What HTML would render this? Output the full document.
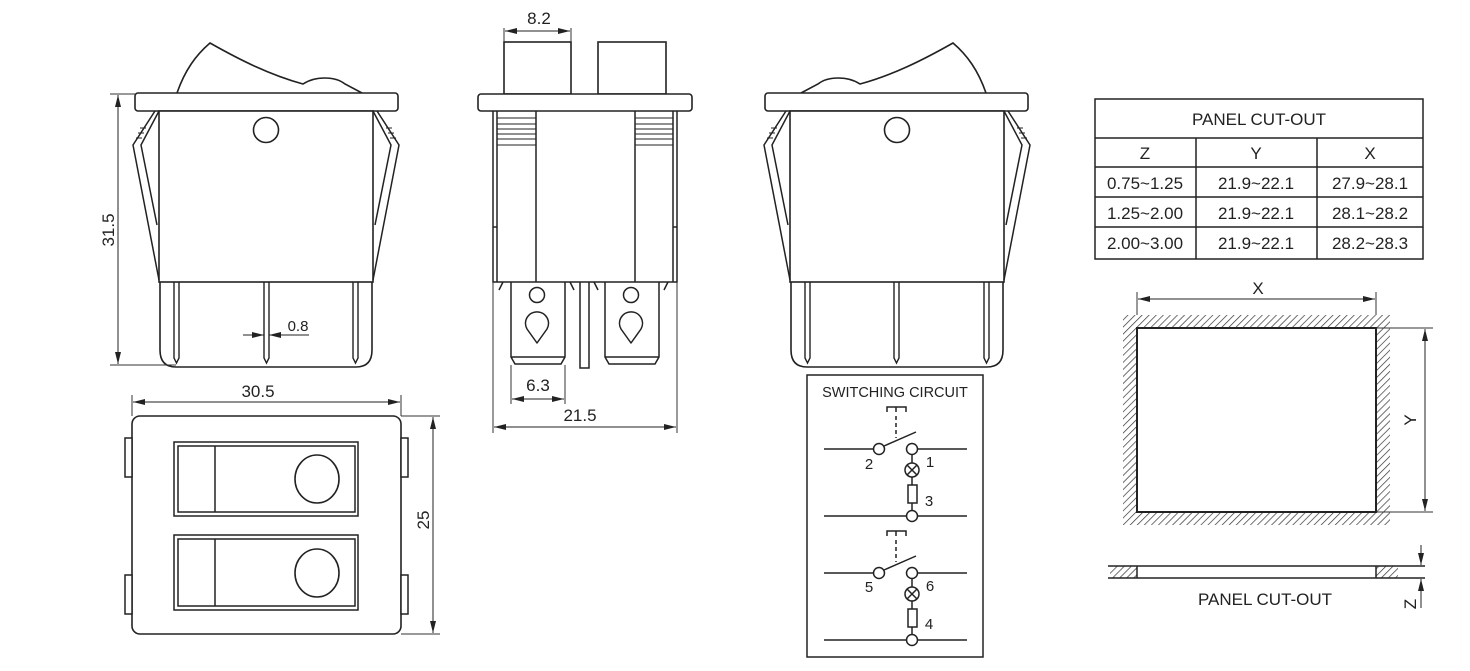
<!DOCTYPE html>
<html><head><meta charset="utf-8"><style>
html,body{margin:0;padding:0;background:#fff;}
svg{display:block;}
text{font-family:"Liberation Sans",Arial,sans-serif;fill:#222;}
</style></head><body>
<svg width="1470" height="671" viewBox="0 0 1470 671" xmlns="http://www.w3.org/2000/svg">
<defs>
<marker id="a" viewBox="0 0 12 6" refX="12" refY="3" markerWidth="12" markerHeight="6" orient="auto-start-reverse" markerUnits="userSpaceOnUse"><path d="M0,0 L12,3 L0,6 Z" fill="#222"/></marker>
<pattern id="h" width="5" height="5" patternUnits="userSpaceOnUse" patternTransform="rotate(45)"><line x1="0" y1="0" x2="0" y2="5" stroke="#333" stroke-width="1.4"/></pattern>
<g id="side">
<path d="M177,93 C185,70 196,55 210,43 C240,60 270,75 303,84 C315,76 335,76 345,84 L362,93" fill="none" stroke="#222" stroke-width="1.6"/>
<rect x="135" y="93" width="263" height="18" rx="3" fill="#fff" stroke="#222" stroke-width="1.6"/>
<rect x="159" y="111" width="214" height="171" fill="#fff" stroke="#222" stroke-width="1.6"/>
<circle cx="266" cy="130" r="12.5" fill="none" stroke="#222" stroke-width="1.6"/>
<path d="M155,111 L133,145 L159,280 M159,111 L141,145 L157,225" fill="none" stroke="#222" stroke-width="1.5"/>
<path d="M377,111 L399,145 L373,280 M373,111 L391,145 L375,225" fill="none" stroke="#222" stroke-width="1.5"/>
<path d="M140,128 l6,0 M138,133 l6,0 M136,138 l6,0 M392,128 l-6,0 M394,133 l-6,0 M396,138 l-6,0" stroke="#222" stroke-width="1"/>
<path d="M160,282 L160,350 Q160,367 176,367 L356,367 Q372,367 372,350 L372,282" fill="none" stroke="#222" stroke-width="1.6"/>
<path d="M174,282 L174,358 L176.5,363 L179,358 L179,282 M264,282 L264,358 L266.5,363 L269,358 L269,282 M353,282 L353,358 L355.5,363 L358,358 L358,282" fill="none" stroke="#222" stroke-width="1.4"/>
</g>
</defs>

<use href="#side"/>
<line x1="110" y1="94" x2="136" y2="94" stroke="#333" stroke-width="1"/>
<line x1="110" y1="365" x2="176" y2="365" stroke="#333" stroke-width="1"/>
<line x1="118" y1="95" x2="118" y2="364" stroke="#222" stroke-width="1" marker-start="url(#a)" marker-end="url(#a)"/>
<text x="0" y="0" font-size="17" text-anchor="middle" transform="translate(114,230) rotate(-90)">31.5</text>
<line x1="243" y1="335" x2="264" y2="335" stroke="#222" stroke-width="1" marker-end="url(#a)"/>
<line x1="309" y1="335" x2="269" y2="335" stroke="#222" stroke-width="1" marker-end="url(#a)"/>
<text x="298" y="331" font-size="15" text-anchor="middle">0.8</text>

<rect x="504" y="42" width="67" height="52" fill="#fff" stroke="#222" stroke-width="1.6"/>
<rect x="598" y="42" width="68" height="52" fill="#fff" stroke="#222" stroke-width="1.6"/>
<line x1="504" y1="28" x2="504" y2="42" stroke="#333" stroke-width="1"/>
<line x1="571" y1="28" x2="571" y2="42" stroke="#333" stroke-width="1"/>
<line x1="505" y1="31" x2="570" y2="31" stroke="#222" stroke-width="1" marker-start="url(#a)" marker-end="url(#a)"/>
<text x="539" y="24" font-size="17" text-anchor="middle">8.2</text>
<rect x="478" y="94" width="214" height="17" rx="3" fill="#fff" stroke="#222" stroke-width="1.6"/>
<path d="M493,111 L493,282 L677,282 L677,111 M497,111 L497,282 M673,111 L673,282 M493,227 L497,227 M673,227 L677,227" fill="none" stroke="#222" stroke-width="1.5"/>
<path d="M536,111 L536,282 M635,111 L635,282" stroke="#222" stroke-width="1.5"/>
<path d="M497,118 H536 M497,124 H536 M497,129 H536 M497,134 H536 M497,139 H536 M497,145 H536 M635,118 H673 M635,124 H673 M635,129 H673 M635,134 H673 M635,139 H673 M635,145 H673" stroke="#222" stroke-width="1"/>
<path d="M511,282 L511,357 L515,364 L561,364 L565,357 L565,282 M511,357 H565" fill="none" stroke="#222" stroke-width="1.5"/>
<path d="M605,282 L605,357 L609,364 L655,364 L659,357 L659,282 M605,357 H659" fill="none" stroke="#222" stroke-width="1.5"/>
<path d="M580,282 L580,368 L589,368 L589,282" fill="none" stroke="#222" stroke-width="1.5"/>
<path d="M503,282 l-4,8 M570,282 l4,8 M594,282 l4,8 M668,282 l-4,8" stroke="#222" stroke-width="1.5"/>
<circle cx="537" cy="295" r="7.5" fill="none" stroke="#222" stroke-width="1.5"/>
<circle cx="631" cy="295" r="7.5" fill="none" stroke="#222" stroke-width="1.5"/>
<path d="M537,343 L527,329 A11.5,11.5 0 1 1 547,329 Z" fill="none" stroke="#222" stroke-width="1.5" stroke-linejoin="round"/>
<path d="M631,343 L621,329 A11.5,11.5 0 1 1 641,329 Z" fill="none" stroke="#222" stroke-width="1.5" stroke-linejoin="round"/>
<line x1="511" y1="365" x2="511" y2="404" stroke="#333" stroke-width="1"/>
<line x1="565" y1="365" x2="565" y2="404" stroke="#333" stroke-width="1"/>
<line x1="512" y1="399" x2="564" y2="399" stroke="#222" stroke-width="1" marker-start="url(#a)" marker-end="url(#a)"/>
<text x="538" y="391" font-size="17" text-anchor="middle">6.3</text>
<line x1="493" y1="282" x2="493" y2="433" stroke="#333" stroke-width="1"/>
<line x1="677" y1="282" x2="677" y2="433" stroke="#333" stroke-width="1"/>
<line x1="494" y1="427" x2="676" y2="427" stroke="#222" stroke-width="1" marker-start="url(#a)" marker-end="url(#a)"/>
<text x="580" y="421" font-size="17" text-anchor="middle">21.5</text>

<use href="#side" transform="translate(1163,0) scale(-1,1)"/>

<rect x="807" y="375" width="176" height="282" fill="none" stroke="#222" stroke-width="1.5"/>
<text x="895" y="397" font-size="14.5" text-anchor="middle">SWITCHING CIRCUIT</text>
<g id="sw" stroke="#222" stroke-width="1.5" fill="none">
<path d="M887,412 V407 H906 V412 M896,407 V412"/>
<line x1="896" y1="416" x2="896" y2="438" stroke-dasharray="4,3"/>
<line x1="824" y1="449" x2="873" y2="449"/>
<line x1="918" y1="449" x2="967" y2="449"/>
<circle cx="879" cy="449" r="5.5" fill="#fff"/>
<circle cx="912" cy="449" r="5.5" fill="#fff"/>
<line x1="884" y1="446" x2="916" y2="432"/>
<line x1="912" y1="455" x2="912" y2="463"/>
<circle cx="912" cy="470" r="7" fill="#fff"/>
<path d="M907,465 L917,475 M917,465 L907,475"/>
<line x1="912" y1="477" x2="912" y2="485"/>
<rect x="908" y="485" width="9" height="18" fill="#fff"/>
<line x1="912" y1="503" x2="912" y2="510"/>
<line x1="824" y1="516" x2="967" y2="516"/>
<circle cx="912" cy="516" r="5.5" fill="#fff"/>
</g>
<use href="#sw" transform="translate(0,124)"/>
<g font-size="15" text-anchor="middle">
<text x="869" y="469">2</text>
<text x="930" y="467">1</text>
<text x="929" y="506">3</text>
<text x="869" y="592">5</text>
<text x="930" y="591">6</text>
<text x="929" y="629">4</text>
</g>

<g stroke="#222" stroke-width="1.5" fill="none">
<rect x="1095" y="99" width="328" height="160"/>
<path d="M1095,138 H1423 M1095,167 H1423 M1095,197 H1423 M1095,227 H1423 M1196,138 V259 M1317,138 V259"/>
</g>
<g font-size="17" text-anchor="middle">
<text x="1259" y="125">PANEL CUT-OUT</text>
<text x="1145" y="159">Z</text><text x="1256" y="159">Y</text><text x="1370" y="159">X</text>
<text x="1145" y="189">0.75~1.25</text><text x="1256" y="189">21.9~22.1</text><text x="1370" y="189">27.9~28.1</text>
<text x="1145" y="219">1.25~2.00</text><text x="1256" y="219">21.9~22.1</text><text x="1370" y="219">28.1~28.2</text>
<text x="1145" y="249">2.00~3.00</text><text x="1256" y="249">21.9~22.1</text><text x="1370" y="249">28.2~28.3</text>
</g>

<line x1="1137" y1="292" x2="1137" y2="315" stroke="#333" stroke-width="1"/>
<line x1="1376" y1="292" x2="1376" y2="315" stroke="#333" stroke-width="1"/>
<line x1="1138" y1="299" x2="1375" y2="299" stroke="#222" stroke-width="1" marker-start="url(#a)" marker-end="url(#a)"/>
<text x="1258" y="294" font-size="17" text-anchor="middle">X</text>
<path d="M1123,315 H1390 V525 H1123 Z M1137,328 V512 H1376 V328 Z" fill="url(#h)" fill-rule="evenodd"/>
<rect x="1137" y="328" width="239" height="184" fill="#fff" stroke="#222" stroke-width="2"/>
<line x1="1376" y1="328" x2="1433" y2="328" stroke="#333" stroke-width="1"/>
<line x1="1376" y1="512" x2="1433" y2="512" stroke="#333" stroke-width="1"/>
<line x1="1425" y1="329" x2="1425" y2="511" stroke="#222" stroke-width="1" marker-start="url(#a)" marker-end="url(#a)"/>
<text x="0" y="0" font-size="17" text-anchor="middle" transform="translate(1416,420) rotate(-90)">Y</text>
<rect x="1110" y="566" width="27" height="12" fill="url(#h)"/>
<rect x="1376" y="566" width="22" height="12" fill="url(#h)"/>
<path d="M1108,566 H1425 M1108,578 H1425 M1137,566 V578 M1376,566 V578" stroke="#222" stroke-width="1.5" fill="none"/>
<line x1="1421" y1="545" x2="1421" y2="565" stroke="#222" stroke-width="1" marker-end="url(#a)"/>
<line x1="1421" y1="608" x2="1421" y2="579" stroke="#222" stroke-width="1" marker-end="url(#a)"/>
<text x="1265" y="605" font-size="17" text-anchor="middle">PANEL CUT-OUT</text>
<text x="0" y="0" font-size="17" text-anchor="middle" transform="translate(1416,604) rotate(-90)">Z</text>

<rect x="132" y="416" width="269" height="218" rx="8" fill="#fff" stroke="#222" stroke-width="1.6"/>
<g fill="#fff" stroke="#222" stroke-width="1.5">
<rect x="125" y="438" width="7" height="39"/><rect x="125" y="575" width="7" height="39"/>
<rect x="401" y="438" width="7" height="39"/><rect x="401" y="575" width="7" height="39"/>
<rect x="174" y="442" width="184" height="74"/><rect x="178" y="446" width="177" height="66"/>
<rect x="174" y="535" width="184" height="75"/><rect x="178" y="539" width="177" height="67"/>
</g>
<path d="M215,446 V512 M215,539 V606" stroke="#222" stroke-width="1.5"/>
<ellipse cx="317" cy="479" rx="22" ry="24" fill="none" stroke="#222" stroke-width="1.6"/>
<ellipse cx="317" cy="573" rx="22" ry="24" fill="none" stroke="#222" stroke-width="1.6"/>
<line x1="132" y1="395" x2="132" y2="416" stroke="#333" stroke-width="1"/>
<line x1="401" y1="395" x2="401" y2="416" stroke="#333" stroke-width="1"/>
<line x1="133" y1="402" x2="400" y2="402" stroke="#222" stroke-width="1" marker-start="url(#a)" marker-end="url(#a)"/>
<text x="258" y="397" font-size="17" text-anchor="middle">30.5</text>
<line x1="401" y1="416" x2="440" y2="416" stroke="#333" stroke-width="1"/>
<line x1="401" y1="634" x2="440" y2="634" stroke="#333" stroke-width="1"/>
<line x1="433" y1="417" x2="433" y2="633" stroke="#222" stroke-width="1" marker-start="url(#a)" marker-end="url(#a)"/>
<text x="0" y="0" font-size="17" text-anchor="middle" transform="translate(429,520) rotate(-90)">25</text>
</svg>
</body></html>
